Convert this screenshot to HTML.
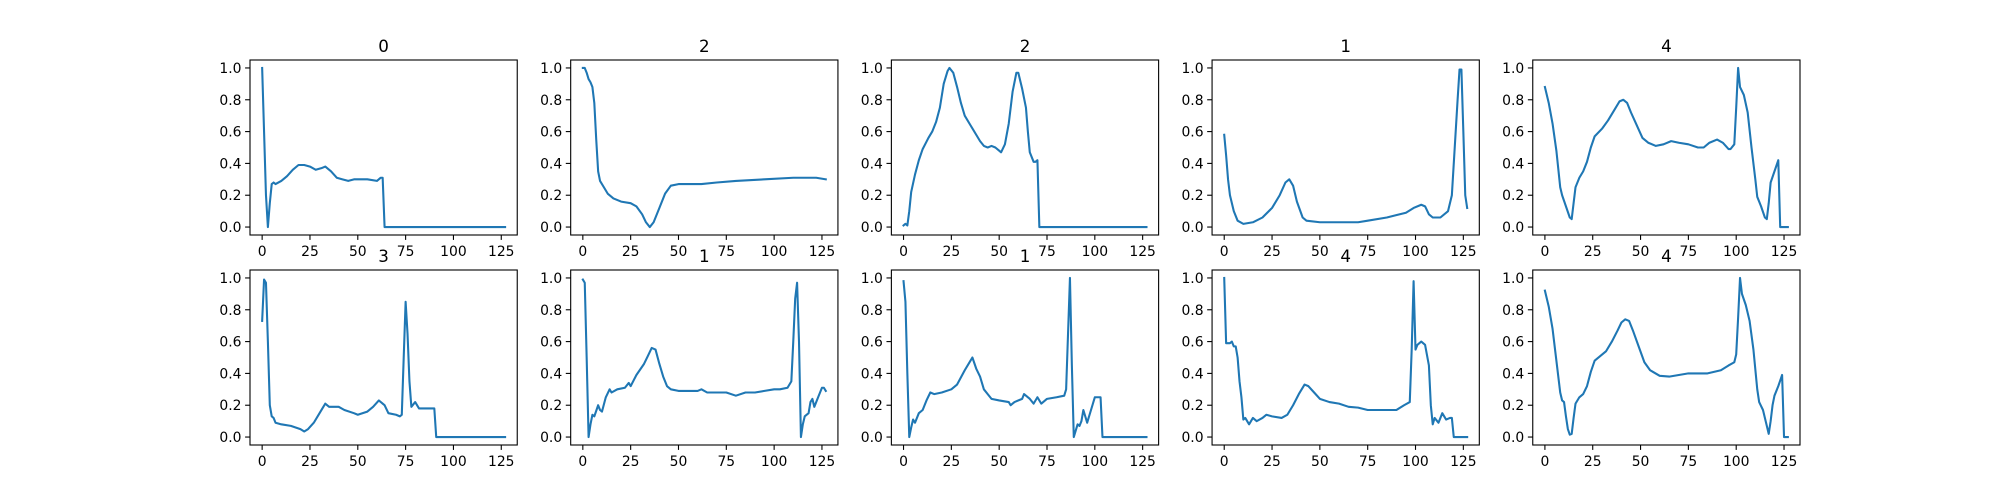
<!DOCTYPE html>
<html><head><meta charset="utf-8">
<style>
html,body{margin:0;padding:0;background:#fff;}
svg{display:block;font-family:"DejaVu Sans","Liberation Sans",sans-serif;}
</style></head>
<body>
<svg id="fig" width="2000" height="500" xmlns="http://www.w3.org/2000/svg"></svg>
<script>
const titles = ["0","2","2","1","4","3","1","1","4","4"];
const xTicks = [0,25,50,75,100,125];
const yTicks = [0.0,0.2,0.4,0.6,0.8,1.0];
const yTickLabels = ["0.0","0.2","0.4","0.6","0.8","1.0"];

const x0 = [0,1,2,3,4,5,6,7,10,13,16,19,22,25,28,31,33,36,39,42,45,48,50,55,60,62,63,64,127];
const y0 = [1.0,0.6,0.2,0.0,0.15,0.27,0.28,0.27,0.29,0.32,0.36,0.39,0.39,0.38,0.36,0.37,0.38,0.35,0.31,0.30,0.29,0.30,0.30,0.30,0.29,0.31,0.31,0.0,0.0];
const x1 = [0,1,2,3,4,5,6,7,8,9,11,13,16,20,25,28,31,33,35,37,40,43,46,50,62,70,80,95,110,122,127];
const y1 = [1.0,1.0,0.97,0.93,0.91,0.88,0.78,0.55,0.35,0.29,0.25,0.21,0.18,0.16,0.15,0.13,0.08,0.03,0.0,0.03,0.12,0.21,0.26,0.27,0.27,0.28,0.29,0.30,0.31,0.31,0.30];
const x2 = [0,1,2,3,4,6,8,10,13,15,17,19,21,23,24,26,28,30,32,35,38,40,42,44,46,48,50,51,53,55,57,59,60,62,64,65,66,68,69,70,71,127];
const y2 = [0.01,0.02,0.01,0.1,0.22,0.33,0.42,0.49,0.56,0.6,0.66,0.75,0.9,0.98,1.0,0.97,0.88,0.78,0.70,0.64,0.58,0.54,0.51,0.50,0.51,0.50,0.48,0.47,0.52,0.65,0.85,0.97,0.97,0.87,0.75,0.6,0.47,0.41,0.41,0.42,0.0,0.0];
const x3 = [0,1,2,3,5,7,10,15,20,25,29,32,34,36,38,41,43,50,60,70,75,85,95,99,103,105,107,109,113,117,119,120,122,123,124,125,126,127];
const y3 = [0.58,0.45,0.30,0.20,0.10,0.04,0.02,0.03,0.06,0.12,0.2,0.28,0.30,0.26,0.16,0.06,0.04,0.03,0.03,0.03,0.04,0.06,0.09,0.12,0.14,0.13,0.08,0.06,0.06,0.10,0.2,0.4,0.8,0.99,0.99,0.6,0.2,0.12];
const x4 = [0,2,4,6,8,9,11,13,14,15,16,18,20,22,24,26,30,33,36,39,41,43,45,48,51,54,58,62,66,70,75,80,83,86,90,93,96,97,99,100,101,102,104,106,108,110,111,113,115,116,117,118,120,122,123,127];
const y4 = [0.88,0.78,0.65,0.48,0.25,0.2,0.13,0.06,0.05,0.15,0.25,0.31,0.35,0.41,0.5,0.57,0.62,0.67,0.73,0.79,0.80,0.78,0.72,0.64,0.56,0.53,0.51,0.52,0.54,0.53,0.52,0.50,0.50,0.53,0.55,0.53,0.49,0.49,0.52,0.75,1.0,0.88,0.83,0.72,0.5,0.3,0.19,0.13,0.06,0.05,0.15,0.28,0.35,0.42,0.0,0.0];
const x5 = [0,1,2,3,4,5,6,7,10,15,20,22,24,27,30,32,33,35,40,43,48,50,55,58,61,64,66,70,72,73,74,75,76,77,78,80,82,86,90,91,127];
const y5 = [0.73,0.99,0.97,0.6,0.2,0.13,0.12,0.09,0.08,0.07,0.05,0.035,0.05,0.09,0.15,0.19,0.21,0.19,0.19,0.17,0.15,0.14,0.16,0.19,0.23,0.20,0.15,0.14,0.13,0.14,0.5,0.85,0.65,0.35,0.19,0.22,0.18,0.18,0.18,0.0,0.0];
const x6 = [0,1,2,3,4,5,6,8,9,10,12,14,15,18,22,24,25,28,32,34,36,38,40,42,44,46,50,55,60,62,65,70,75,80,85,90,95,100,103,107,109,110,111,112,113,114,115,116,118,119,120,121,123,125,126,127];
const y6 = [0.99,0.97,0.5,0.0,0.08,0.14,0.13,0.2,0.17,0.16,0.25,0.3,0.28,0.30,0.31,0.34,0.32,0.39,0.46,0.51,0.56,0.55,0.46,0.38,0.32,0.30,0.29,0.29,0.29,0.30,0.28,0.28,0.28,0.26,0.28,0.28,0.29,0.30,0.30,0.31,0.35,0.6,0.87,0.97,0.6,0.0,0.08,0.13,0.15,0.22,0.24,0.19,0.25,0.31,0.31,0.29];
const x7 = [0,1,2,3,4,5,6,8,10,12,14,16,20,25,28,32,35,36,38,40,42,44,46,50,55,56,58,62,63,66,68,70,72,75,80,84,85,86,87,88,89,91,92,93,94,96,98,100,103,104,127];
const y7 = [0.98,0.85,0.4,0.0,0.06,0.11,0.09,0.15,0.17,0.23,0.28,0.27,0.28,0.30,0.33,0.42,0.48,0.5,0.43,0.38,0.30,0.27,0.24,0.23,0.22,0.2,0.22,0.24,0.27,0.24,0.21,0.25,0.21,0.24,0.25,0.26,0.3,0.65,1.0,0.45,0.0,0.08,0.07,0.1,0.17,0.09,0.17,0.25,0.25,0.0,0.0];
const x8 = [0,1,3,4,5,6,7,8,9,10,11,13,15,17,20,22,25,30,33,36,39,42,44,47,50,55,60,65,70,75,80,85,90,94,97,98,99,100,101,103,105,107,108,109,110,112,114,116,118,119,120,127];
const y8 = [1.0,0.59,0.59,0.60,0.57,0.57,0.5,0.35,0.25,0.11,0.12,0.08,0.12,0.1,0.12,0.14,0.13,0.12,0.14,0.2,0.27,0.33,0.32,0.28,0.24,0.22,0.21,0.19,0.185,0.17,0.17,0.17,0.17,0.2,0.22,0.55,0.98,0.55,0.58,0.60,0.58,0.45,0.2,0.08,0.12,0.09,0.15,0.11,0.12,0.12,0.0,0.0];
const x9 = [0,2,4,6,8,9,10,11,12,13,14,15,16,18,20,22,24,26,29,32,35,38,40,42,44,46,49,52,55,60,65,70,75,85,92,96,99,100,101,102,103,105,107,109,111,112,114,116,117,118,119,120,122,124,125,127];
const y9 = [0.92,0.82,0.68,0.48,0.28,0.23,0.22,0.13,0.05,0.015,0.02,0.12,0.21,0.25,0.27,0.32,0.41,0.48,0.51,0.54,0.6,0.67,0.72,0.74,0.73,0.67,0.57,0.47,0.42,0.385,0.38,0.39,0.40,0.40,0.42,0.45,0.47,0.52,0.75,1.0,0.9,0.83,0.73,0.55,0.3,0.22,0.17,0.07,0.02,0.1,0.2,0.26,0.32,0.39,0.0,0.0];

const seriesX = [x0,x1,x2,x3,x4,x5,x6,x7,x8,x9];
const seriesY = [y0,y1,y2,y3,y4,y5,y6,y7,y8,y9];

const NS = "http://www.w3.org/2000/svg";
const svg = document.getElementById("fig");
const L = 250, R = 1800, T = 60, B = 445;
const aw = (R - L) / 5.8, gw = aw * 0.2;
const ah = (B - T) / 2.2, gh = ah * 0.2;
const XMIN = -6.35, XMAX = 133.35, YMIN = -0.05, YMAX = 1.05;

function mk(tag, attrs, parent) {
  const e = document.createElementNS(NS, tag);
  for (const k in attrs) e.setAttribute(k, attrs[k]);
  parent.appendChild(e);
  return e;
}

for (let i = 0; i < 10; i++) {
  const r = Math.floor(i / 5), c = i % 5;
  const ax = L + c * (aw + gw), ay = T + r * (ah + gh);
  const sx = v => ax + (v - XMIN) / (XMAX - XMIN) * aw;
  const sy = v => ay + ah - (v - YMIN) / (YMAX - YMIN) * ah;
  const g = mk("g", {}, svg);
  
  

  const xs = seriesX[i], ys = seriesY[i];
  let d = "";
  for (let k = 0; k < xs.length; k++) d += (k ? "L" : "M") + sx(xs[k]).toFixed(2) + "," + sy(ys[k]).toFixed(2);
  const line = mk("path", {d: d, fill: "none", stroke: "#1f77b4", "stroke-width": 2.08, "stroke-linejoin": "round", "stroke-linecap": "square"}, g);
  
  

  const frame = mk("rect", {x: ax, y: ay, width: aw, height: ah, fill: "none", stroke: "#000", "stroke-width": 1.1}, g);
  
  

  xTicks.forEach(t => {
    const px = sx(t);
    mk("line", {x1: px, x2: px, y1: ay + ah, y2: ay + ah + 4.9, stroke: "#000", "stroke-width": 1.1}, g);
    const tx = mk("text", {x: px, y: ay + ah + 21, "font-size": 13.9, "text-anchor": "middle", fill: "#000"}, g);
    tx.textContent = String(t);
    
    
  });
  yTicks.forEach((t, j) => {
    const py = sy(t);
    mk("line", {x1: ax - 4.9, x2: ax, y1: py, y2: py, stroke: "#000", "stroke-width": 1.1}, g);
    const ty = mk("text", {x: ax - 8.5, y: py + 5, "font-size": 13.9, "text-anchor": "end", fill: "#000"}, g);
    ty.textContent = yTickLabels[j];
    
    
  });
  const ti = mk("text", {x: ax + aw / 2, y: ay - 8, "font-size": 16.7, "text-anchor": "middle", fill: "#000"}, g);
  ti.textContent = titles[i];
  
  
}
</script>
</body></html>
